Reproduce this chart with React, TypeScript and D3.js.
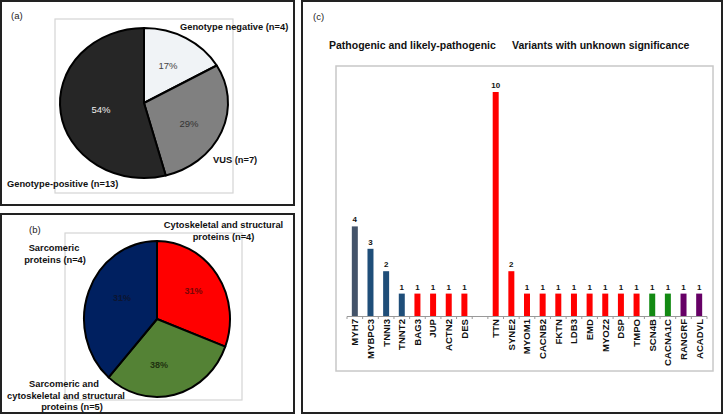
import React from "react";
import * as d3 from "d3";

// ---------- Data ----------
// Panel (a)
const genotypeLabels = ["Genotype negative (n=4)", "VUS (n=7)", "Genotype-positive (n=13)"];
const genotypeValues = [4, 7, 13];
const genotypePct = ["17%", "29%", "54%"];

// Panel (b) (slice sizes as drawn in the picture)
const proteinLabels = ["Cytoskeletal and structural proteins (n=4)", "Sarcomeric and cytoskeletal and structural proteins (n=5)", "Sarcomeric proteins (n=4)"];
const proteinValues = [4, 4, 5];
const proteinPct = ["31%", "38%", "31%"];

// Panel (c)
const genes = ["MYH7", "MYBPC3", "TNNI3", "TNNT2", "BAG3", "JUP", "ACTN2", "DES", "", "TTN", "SYNE2", "MYOM1", "CACNB2", "FKTN", "LDB3", "EMD", "MYOZ2", "DSP", "TMPO", "SCN4B", "CACNA1C", "RANGRF", "ACADVL"];
const geneCounts = [4, 3, 2, 1, 1, 1, 1, 1, 0, 10, 2, 1, 1, 1, 1, 1, 1, 1, 1, 1, 1, 1, 1];
const geneGroup = ["sg", "s", "s", "s", "c", "c", "c", "c", "", "c", "c", "c", "c", "c", "c", "c", "c", "c", "c", "g", "g", "p", "p"];
const groupTitles = ["Pathogenic and likely-pathogenic", "Variants with unknown significance"];

const FONT = "'Liberation Sans', Arial, Helvetica, sans-serif";

const groupColor: Record<string, string> = {
  sg: "#44546a",
  s: "#1f4e79",
  c: "#ff0000",
  g: "#138a13",
  p: "#660066",
};

function EllipsePie({ cx, cy, rx, ry, values, colors }: { cx: number; cy: number; rx: number; ry: number; values: number[]; colors: string[] }) {
  const arcs = d3.pie<number>().sort(null).value((d) => d)(values);
  const arc = d3.arc<d3.PieArcDatum<number>>().innerRadius(0).outerRadius(rx);
  return (
    <g transform={`translate(${cx},${cy}) scale(1,${ry / rx})`}>
      {arcs.map((a, i) => (
        <path key={i} d={arc(a) || ""} fill={colors[i]} stroke="#000" strokeWidth={2} vectorEffect="non-scaling-stroke" strokeLinejoin="round" />
      ))}
    </g>
  );
}

export default function App() {
  const x = d3.scaleBand<string>().domain(genes.map((g, i) => `${i}`)).range([347, 707]).paddingInner(0.617).paddingOuter(0.3085);
  const y = d3.scaleLinear().domain([0, 10]).range([316, 92]);
  const step = x.step();

  const labelBold = { fontFamily: FONT, fontWeight: 700, fontSize: 9.3, fill: "#111" } as const;

  return (
    <svg width={725} height={414} style={{ position: "absolute", left: 0, top: 0, background: "#fff" }}>
      {/* Panel frames */}
      <rect x={1} y={1} width={293} height={204} fill="#fff" stroke="#222" strokeWidth={2} />
      <rect x={1} y={214} width={293} height={199} fill="#fff" stroke="#222" strokeWidth={2} />
      <rect x={302} y={1} width={420} height={412} fill="#fff" stroke="#222" strokeWidth={2} />

      {/* ---------- Panel (a) ---------- */}
      <rect x={55} y={19} width={178} height={174} fill="none" stroke="#d4d4d4" strokeWidth={1.2} />
      <text x={11} y={19} style={{ fontFamily: FONT, fontSize: 9.5, fill: "#222" }}>(a)</text>
      <EllipsePie cx={144} cy={103} rx={84} ry={75} values={genotypeValues} colors={["#f0f3f6", "#808080", "#262626"]} />
      <text x={168} y={69} textAnchor="middle" style={{ fontFamily: FONT, fontSize: 9.5, fill: "#444" }}>{genotypePct[0]}</text>
      <text x={189} y={127} textAnchor="middle" style={{ fontFamily: FONT, fontSize: 9.5, fill: "#333" }}>{genotypePct[1]}</text>
      <text x={101} y={113} textAnchor="middle" style={{ fontFamily: FONT, fontSize: 9.5, fill: "#eee" }}>{genotypePct[2]}</text>
      <text x={180} y={30} style={labelBold}>{genotypeLabels[0]}</text>
      <text x={213} y={163} style={labelBold}>{genotypeLabels[1]}</text>
      <text x={7} y={187} style={labelBold}>{genotypeLabels[2]}</text>

      {/* ---------- Panel (b) ---------- */}
      <rect x={65} y={233} width={177} height={167} fill="none" stroke="#d4d4d4" strokeWidth={1.2} />
      <text x={29} y={233} style={{ fontFamily: FONT, fontSize: 9.5, fill: "#222" }}>(b)</text>
      <EllipsePie cx={157} cy={319} rx={73} ry={78} values={proteinValues} colors={["#ff0000", "#548235", "#002060"]} />
      <text x={193.5} y={294} textAnchor="middle" style={{ fontFamily: FONT, fontWeight: 700, fontSize: 9, fill: "#7a0505" }}>{proteinPct[0]}</text>
      <text x={159} y={368} textAnchor="middle" style={{ fontFamily: FONT, fontWeight: 700, fontSize: 9, fill: "#1f3310" }}>{proteinPct[1]}</text>
      <text x={122} y={301} textAnchor="middle" style={{ fontFamily: FONT, fontWeight: 700, fontSize: 9, fill: "#0c1530" }}>{proteinPct[2]}</text>
      <text textAnchor="middle" style={labelBold}>
        <tspan x={223.5} y={228}>Cytoskeletal and structural</tspan>
        <tspan x={223.5} y={239.5}>proteins (n=4)</tspan>
      </text>
      <text textAnchor="middle" style={labelBold}>
        <tspan x={64} y={387}>Sarcomeric and</tspan>
        <tspan x={66} y={398.5}>cytoskeletal and structural</tspan>
        <tspan x={72} y={410}>proteins (n=5)</tspan>
      </text>
      <text textAnchor="middle" style={labelBold}>
        <tspan x={54} y={251}>Sarcomeric</tspan>
        <tspan x={55} y={262.5}>proteins (n=4)</tspan>
      </text>

      {/* ---------- Panel (c) ---------- */}
      <text x={313} y={20} style={{ fontFamily: FONT, fontSize: 9.5, fill: "#222" }}>(c)</text>
      <text x={329} y={49} style={{ fontFamily: FONT, fontWeight: 700, fontSize: 10.5, fill: "#111" }}>{groupTitles[0]}</text>
      <text x={512} y={49} style={{ fontFamily: FONT, fontWeight: 700, fontSize: 10.5, fill: "#111" }}>{groupTitles[1]}</text>
      <rect x={336} y={66} width={377} height={305} fill="none" stroke="#c8c8c8" strokeWidth={1.5} />

      {genes.map((g, i) => {
        if (!g) return null;
        const bx = x(`${i}`)!;
        const v = geneCounts[i];
        const cxm = bx + x.bandwidth() / 2;
        return (
          <g key={i}>
            <rect x={bx} y={y(v)} width={x.bandwidth()} height={y(0) - y(v)} fill={groupColor[geneGroup[i]]} />
            <text x={cxm} y={y(v) - 4} textAnchor="middle" style={{ fontFamily: FONT, fontWeight: 700, fontSize: 8, fill: "#111" }}>{v}</text>
            <text transform={`translate(${cxm},319) rotate(-90)`} textAnchor="end" dy="0.35em" style={{ fontFamily: FONT, fontWeight: 700, fontSize: 9.6, fill: "#111" }}>{g}</text>
          </g>
        );
      })}
      {/* x axis */}
      <line x1={347} x2={707} y1={316.5} y2={316.5} stroke="#999" strokeWidth={1} />
      {d3.range(genes.length + 1).map((k) => {
        const tx = 347 + k * step;
        return <line key={k} x1={tx} x2={tx} y1={316.5} y2={319} stroke="#999" strokeWidth={1} />;
      })}
    </svg>
  );
}
